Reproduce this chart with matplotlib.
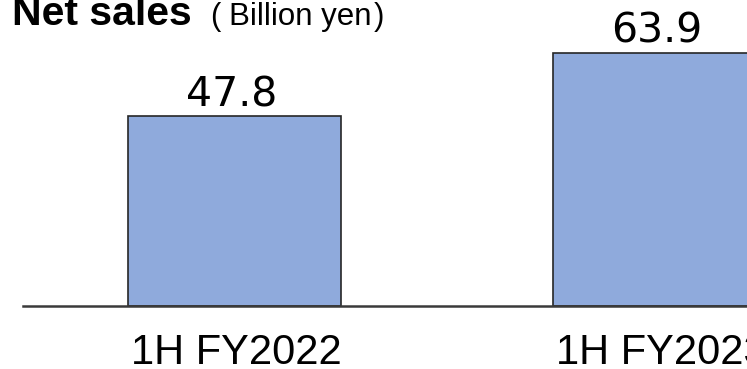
import matplotlib
matplotlib.use('Agg')
import matplotlib.pyplot as plt

categories = ['1H FY2022', '1H FY2023']
values = [47.8, 63.9]
value_labels = ['47.8', '63.9']
title = 'Net sales'
unit = 'Billion yen'

W, H = 747, 369
fig = plt.figure(figsize=(W / 100, H / 100), dpi=100)
ax = fig.add_axes([0, 0, 1, 1])
ax.set_axis_off()

px_per_x = 425.0
bar_w = 213 / px_per_x
x0 = -234.5 / px_per_x
ax.set_xlim(x0, x0 + W / px_per_x)
sy = 3.965
base = 306
ax.set_ylim(-(H - base) / sy, base / sy)

xs = list(range(len(values)))
ax.bar(xs, values, width=bar_w, color='#8FAADC', edgecolor='#262626',
       linewidth=1.2, zorder=2)
ax.axhline(0, xmin=23 / W, xmax=1, color='#3a3a3a', linewidth=1.8, zorder=3)

for x, v, lab in zip(xs, values, value_labels):
    ax.annotate(lab, (x, v), xytext=(-3, 10), textcoords='offset pixels',
                ha='center', va='baseline', fontsize=29.5, family='DejaVu Sans',
                color='#000000')
for x, c in zip(xs, categories):
    ax.annotate(c, (x, 0), xytext=(2, -58), textcoords='offset pixels',
                ha='center', va='baseline', fontsize=30, family='Liberation Sans',
                color='#000000')

fig.text(12 / W, 1 - 25 / H, title, fontsize=29.5, weight='bold',
         family='Liberation Sans', va='baseline', ha='left', color='#000000')
fig.text(210 / W, 1 - 25 / H, '(', fontsize=22.5, family='Liberation Sans',
         va='baseline', ha='left')
fig.text(229 / W, 1 - 25 / H, unit, fontsize=22.5, family='Liberation Sans',
         va='baseline', ha='left')
fig.text(384 / W, 1 - 25 / H, ')', fontsize=22.5, family='Liberation Sans',
         va='baseline', ha='right')

fig.savefig('out.png', dpi=100)
